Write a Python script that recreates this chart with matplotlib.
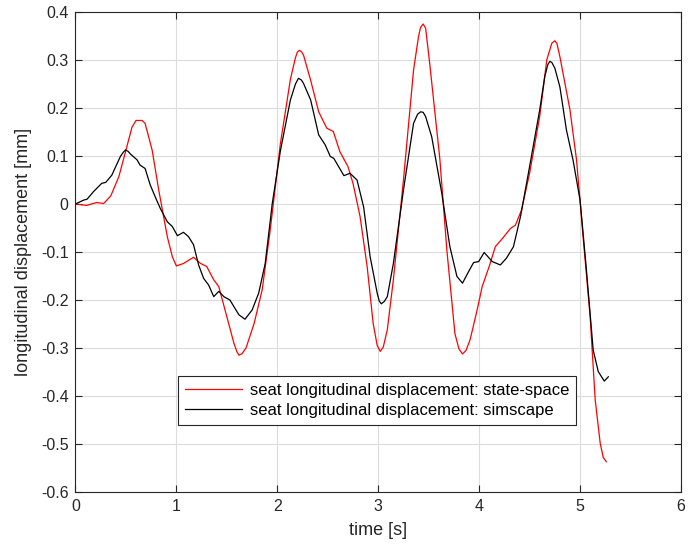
import matplotlib
matplotlib.use("Agg")
import matplotlib.pyplot as plt

# state-space response (red)
t_ss = [0.00, 0.11, 0.21, 0.28, 0.35, 0.43, 0.50, 0.56, 0.60, 0.66, 0.69, 0.76,
        0.825, 0.91, 0.96, 1.00, 1.07, 1.17, 1.24, 1.30, 1.37, 1.42, 1.50, 1.57,
        1.60, 1.62, 1.65, 1.69, 1.77, 1.85, 1.93, 2.03, 2.13, 2.18, 2.20, 2.22,
        2.24, 2.26, 2.33, 2.41, 2.49, 2.555, 2.62, 2.70, 2.75, 2.82, 2.89, 2.95,
        2.99, 3.02, 3.05, 3.09, 3.15, 3.25, 3.35, 3.40, 3.42, 3.445, 3.47, 3.51,
        3.61, 3.68, 3.76, 3.80, 3.835, 3.87, 3.91, 3.98, 4.03, 4.10, 4.16, 4.23,
        4.31, 4.36, 4.42, 4.50, 4.60, 4.67, 4.72, 4.75, 4.77, 4.80, 4.90, 4.965,
        5.03, 5.10, 5.15, 5.20, 5.23, 5.26]
y_ss = [0.0, -0.003, 0.003, 0.001, 0.017, 0.057, 0.112, 0.160, 0.174, 0.174, 0.168, 0.112,
        0.029, -0.068, -0.11, -0.129, -0.124, -0.111, -0.124, -0.13, -0.158, -0.172, -0.235, -0.29,
        -0.308, -0.315, -0.312, -0.30, -0.249, -0.179, -0.054, 0.125, 0.26, 0.305, 0.317, 0.320,
        0.317, 0.31, 0.258, 0.192, 0.158, 0.151, 0.109, 0.078, 0.043, -0.026, -0.13, -0.249,
        -0.295, -0.307, -0.298, -0.262, -0.158, 0.05, 0.279, 0.35, 0.368, 0.375, 0.366, 0.293,
        0.095, -0.096, -0.27, -0.302, -0.3125, -0.305, -0.283, -0.221, -0.172, -0.13, -0.089, -0.072,
        -0.051, -0.044, -0.0125, 0.064, 0.182, 0.30, 0.335, 0.340, 0.335, 0.307, 0.196, 0.092,
        -0.068, -0.235, -0.408, -0.499, -0.528, -0.537]

# simscape response (black)
t_sim = [0.00, 0.08, 0.115, 0.18, 0.26, 0.30, 0.36, 0.445, 0.475, 0.495, 0.52, 0.545,
         0.61, 0.64, 0.69, 0.74, 0.79, 0.84, 0.91, 0.96, 1.01, 1.07, 1.12, 1.17,
         1.22, 1.27, 1.32, 1.37, 1.42, 1.47, 1.53, 1.62, 1.68, 1.75, 1.815, 1.88,
         1.95, 2.03, 2.13, 2.18, 2.21, 2.24, 2.26, 2.33, 2.41, 2.475, 2.525, 2.56,
         2.66, 2.72, 2.79, 2.855, 2.92, 2.99, 3.01, 3.03, 3.06, 3.09, 3.15, 3.25,
         3.35, 3.39, 3.42, 3.445, 3.47, 3.53, 3.63, 3.71, 3.78, 3.835, 3.895, 3.945,
         3.995, 4.05, 4.13, 4.21, 4.27, 4.34, 4.41, 4.50, 4.60, 4.65, 4.68, 4.70,
         4.72, 4.75, 4.80, 4.865, 4.93, 5.00, 5.06, 5.13, 5.18, 5.24, 5.28]
y_sim = [0.0, 0.008, 0.01, 0.026, 0.043, 0.045, 0.06, 0.099, 0.108, 0.1125, 0.110, 0.104,
         0.092, 0.081, 0.074, 0.04, 0.015, -0.009, -0.037, -0.047, -0.066, -0.059, -0.068, -0.085,
         -0.127, -0.155, -0.169, -0.193, -0.182, -0.193, -0.20, -0.231, -0.24, -0.221, -0.186, -0.124,
         0.001, 0.11, 0.217, 0.250, 0.262, 0.258, 0.251, 0.217, 0.144, 0.123, 0.099, 0.095,
         0.059, 0.064, 0.05, -0.006, -0.11, -0.186, -0.202, -0.208, -0.203, -0.193, -0.124, 0.029,
         0.168, 0.187, 0.192, 0.191, 0.182, 0.14, 0.022, -0.089, -0.151, -0.165, -0.141, -0.122,
         -0.12, -0.101, -0.12, -0.127, -0.113, -0.089, -0.026, 0.078, 0.196, 0.265, 0.290, 0.297,
         0.295, 0.283, 0.244, 0.154, 0.092, 0.008, -0.13, -0.304, -0.349, -0.369, -0.36]

x_ticks = [0, 1, 2, 3, 4, 5, 6]
y_ticks = [-0.6, -0.5, -0.4, -0.3, -0.2, -0.1, 0, 0.1, 0.2, 0.3, 0.4]
y_tick_labels = ["-0.6", "-0.5", "-0.4", "-0.3", "-0.2", "-0.1", "0", "0.1", "0.2", "0.3", "0.4"]

plt.rcParams['font.family'] = ['Liberation Sans', 'DejaVu Sans']

fig = plt.figure(figsize=(6.88, 5.52), dpi=100)
ax = fig.add_axes([0.1097, 0.1087, 0.8801, 0.8696])

ax.plot(t_ss, y_ss, color='red', lw=0.9, label='seat longitudinal displacement: state-space')
ax.plot(t_sim, y_sim, color='black', lw=0.9, label='seat longitudinal displacement: simscape')

ax.set_xlim(0, 6)
ax.set_ylim(-0.6, 0.4)
ax.set_xticks(x_ticks)
ax.set_yticks(y_ticks)
ax.set_yticklabels(y_tick_labels)
ax.grid(True, color='#dcdcdc', lw=0.8)
ax.set_axisbelow(True)

axis_col = '#262626'
for s in ax.spines.values():
    s.set_color(axis_col)
    s.set_linewidth(0.8)
ax.tick_params(direction='in', length=5, width=0.8, colors=axis_col,
               top=True, right=True, labelsize=11.5, pad=5)

ax.set_xlabel('time [s]', fontsize=13, color=axis_col, labelpad=6)
ax.set_ylabel('longitudinal displacement [mm]', fontsize=13, color=axis_col, labelpad=6)

leg = ax.legend(loc='lower left', bbox_to_anchor=(0.170, 0.140), fontsize=12,
                handlelength=3.4, fancybox=False, framealpha=1, borderaxespad=0,
                borderpad=0.4, labelspacing=0.3, handletextpad=0.5)
leg.get_frame().set_edgecolor(axis_col)
leg.get_frame().set_linewidth(0.8)

fig.savefig('out.png', dpi=100)
